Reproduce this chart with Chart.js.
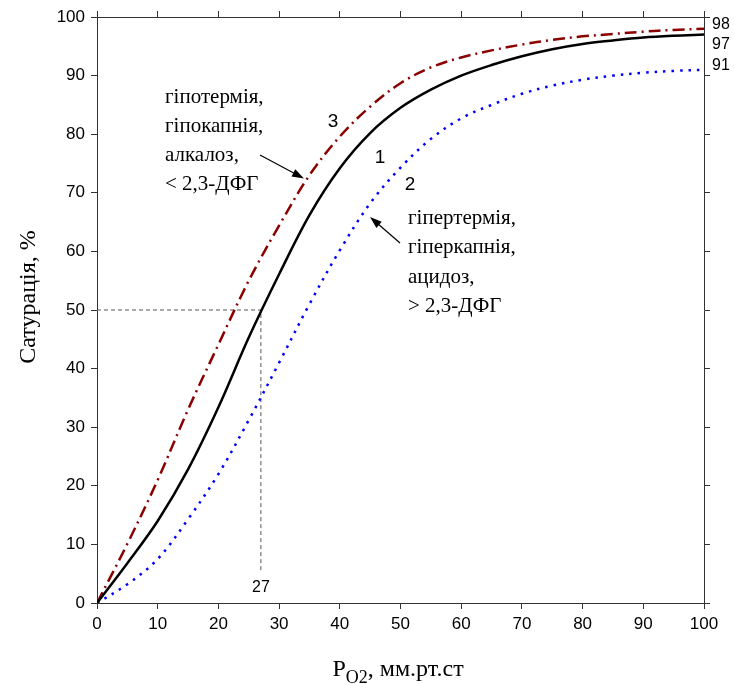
<!DOCTYPE html>
<html>
<head>
<meta charset="utf-8">
<script src="https://cdn.jsdelivr.net/npm/chart.js@4.4.1/dist/chart.umd.min.js"></script>
<style>
  html, body { margin: 0; padding: 0; background: #fff; }
  #wrap { width: 734px; height: 684px; }
</style>
</head>
<body>
<div id="wrap"><canvas id="odc" width="734" height="684"></canvas></div>
<script>
// PO2, mm Hg
const pO2 = [0, 5, 10, 15, 20, 25, 30, 35, 40, 45, 50, 55, 60, 65, 70, 75, 80, 85, 90, 95, 100];
// 1 - norm
const sat1 = [0, 6.8, 14.0, 22.8, 33.4, 45.3, 56.1, 66.2, 74.2, 80.2, 84.5, 87.6, 90.0, 91.8, 93.3, 94.5, 95.4, 96.0, 96.5, 96.8, 97];
// 2 - right shift
const sat2 = [0, 3.2, 7.5, 14.3, 22.0, 31.2, 41.0, 51.0, 60.2, 68.2, 74.3, 79.2, 82.7, 85.0, 86.9, 88.3, 89.3, 90.0, 90.5, 90.8, 91];
// 3 - left shift
const sat3 = [0, 10.1, 21.0, 33.0, 44.1, 55.0, 64.4, 73.0, 79.6, 84.7, 88.7, 91.4, 93.1, 94.3, 95.3, 96.1, 96.7, 97.1, 97.5, 97.8, 98];
// P50 guide
const p50 = [{x: 0, y: 50}, {x: 27, y: 50}, {x: 27, y: 5.5}];
const endLabels = ['98', '97', '91'];
const curveNames = ['1', '2', '3'];
const leftNote = ['гіпотермія,', 'гіпокапнія,', 'алкалоз,', '< 2,3-ДФГ'];
const rightNote = ['гіпертермія,', 'гіперкапнія,', 'ацидоз,', '> 2,3-ДФГ'];

const toXY = arr => arr.map((v, i) => ({x: pO2[i], y: v}));

const SERIF = '"Liberation Serif", "Times New Roman", serif';
const SANS = '"Liberation Sans", Arial, sans-serif';

function arrow(ctx, x1, y1, x2, y2) {
    const a = Math.atan2(y2 - y1, x2 - x1);
    const len = 12, w = 4;
    ctx.beginPath();
    ctx.moveTo(x1, y1);
    ctx.lineTo(x2 - Math.cos(a) * len * 0.8, y2 - Math.sin(a) * len * 0.8);
    ctx.stroke();
    ctx.beginPath();
    ctx.moveTo(x2, y2);
    ctx.lineTo(x2 - Math.cos(a) * len + Math.sin(a) * w, y2 - Math.sin(a) * len - Math.cos(a) * w);
    ctx.lineTo(x2 - Math.cos(a) * len - Math.sin(a) * w, y2 - Math.sin(a) * len + Math.cos(a) * w);
    ctx.closePath();
    ctx.fill();
}

const notes = {
    id: 'notes',
    afterDraw(chart) {
        const ctx = chart.ctx;
        const xs = chart.scales.x;
        ctx.save();
        ctx.fillStyle = '#000';
        ctx.strokeStyle = '#000';

        // curve numbers
        ctx.font = '19px ' + SANS;
        ctx.textAlign = 'center';
        ctx.textBaseline = 'middle';
        ctx.fillText(curveNames[0], 380, 158);
        ctx.fillText(curveNames[1], 410, 185);
        ctx.fillText(curveNames[2], 333, 122);

        // notes
        ctx.font = '21px ' + SERIF;
        ctx.textAlign = 'left';
        leftNote.forEach((t, i) => ctx.fillText(t, 165, 97 + i * 29));
        rightNote.forEach((t, i) => ctx.fillText(t, 408, 218 + i * 29.5));

        // arrows
        ctx.lineWidth = 1.2;
        arrow(ctx, 260, 155, 304, 178.5);
        arrow(ctx, 400, 243, 370, 217);

        // end values on the right
        ctx.font = '16px ' + SANS;
        ctx.textAlign = 'left';
        ctx.fillText(endLabels[0], 712, 25);
        ctx.fillText(endLabels[1], 712, 45);
        ctx.fillText(endLabels[2], 712, 66);

        // P50 value
        ctx.textAlign = 'center';
        ctx.fillText('27', xs.getPixelForValue(27), 588);

        // axis titles
        ctx.textBaseline = 'alphabetic';
        ctx.font = '24px ' + SERIF;
        ctx.save();
        ctx.translate(35, 297);
        ctx.rotate(-Math.PI / 2);
        ctx.textAlign = 'center';
        ctx.fillText('Сатурація, %', 0, 0);
        ctx.restore();

        ctx.textAlign = 'left';
        const parts = [['P', 24, 676], ['O2', 18, 683], [', мм.рт.ст', 24, 676]];
        let total = 0;
        parts.forEach(p => { ctx.font = p[1] + 'px ' + SERIF; total += ctx.measureText(p[0]).width; });
        let x0 = 398 - total / 2;
        parts.forEach(p => {
            ctx.font = p[1] + 'px ' + SERIF;
            ctx.fillText(p[0], x0, p[2]);
            x0 += ctx.measureText(p[0]).width;
        });
        ctx.restore();
    }
};

const axisColor = '#333';
const gridOpts = { display: true, drawOnChartArea: false, drawTicks: true, tickLength: 6, color: axisColor, lineWidth: 1 };

new Chart(document.getElementById('odc'), {
    type: 'line',
    data: {
        datasets: [
            {
                label: '1',
                data: toXY(sat1),
                borderColor: '#000',
                borderWidth: 2.5,
                pointRadius: 0,
                tension: 0.35
            },
            {
                label: '2',
                data: toXY(sat2),
                borderColor: '#0000ff',
                borderWidth: 2.5,
                borderDash: [2.5, 6],
                pointRadius: 0,
                tension: 0.35
            },
            {
                label: '3',
                data: toXY(sat3),
                borderColor: '#8b0000',
                borderWidth: 2.5,
                borderDash: [12, 5, 2, 5],
                pointRadius: 0,
                tension: 0.35
            },
            {
                label: 'P50',
                data: p50,
                borderColor: '#555',
                borderWidth: 1,
                borderDash: [4, 3],
                pointRadius: 0,
                tension: 0
            }
        ]
    },
    options: {
        responsive: false,
        animation: false,
        layout: { padding: 0 },
        plugins: { legend: { display: false }, tooltip: { enabled: false } },
        scales: {
            x: {
                type: 'linear', position: 'bottom', min: 0, max: 100,
                grid: gridOpts,
                border: { display: true, color: axisColor, width: 1 },
                ticks: { stepSize: 10, color: '#000', font: { family: SANS, size: 17 }, padding: 5 },
                afterFit(s) { s.height = 81; }
            },
            x2: {
                type: 'linear', position: 'top', min: 0, max: 100,
                grid: gridOpts,
                border: { display: true, color: axisColor, width: 1 },
                ticks: { stepSize: 10, display: false },
                afterFit(s) { s.height = 17; }
            },
            y: {
                type: 'linear', position: 'left', min: 0, max: 100,
                grid: gridOpts,
                border: { display: true, color: axisColor, width: 1 },
                ticks: { stepSize: 10, color: '#000', font: { family: SANS, size: 17 }, padding: 6 },
                afterFit(s) { s.width = 97; }
            },
            y2: {
                type: 'linear', position: 'right', min: 0, max: 100,
                grid: gridOpts,
                border: { display: true, color: axisColor, width: 1 },
                ticks: { stepSize: 10, display: false },
                afterFit(s) { s.width = 30; }
            }
        }
    },
    plugins: [notes]
});
</script>
</body>
</html>
